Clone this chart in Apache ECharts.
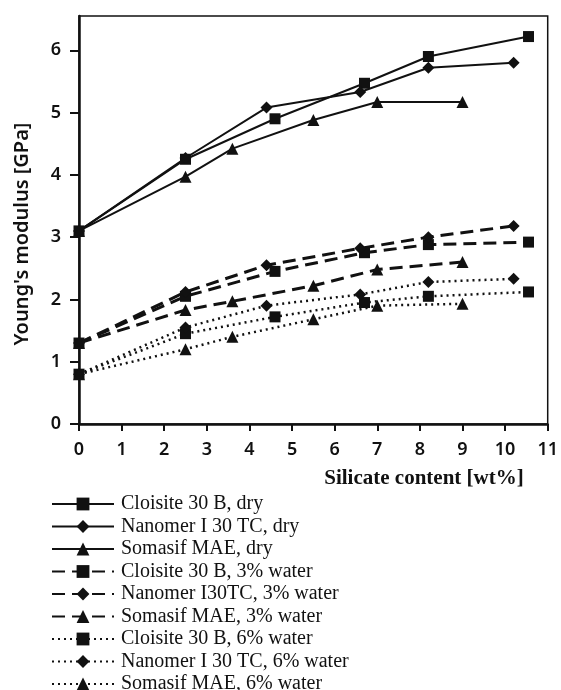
<!DOCTYPE html>
<html>
<head>
<meta charset="utf-8">
<script src="https://cdn.jsdelivr.net/npm/echarts@6/dist/echarts.min.js"></script>
<style>
  html, body { margin: 0; padding: 0; background: #fff; }
  #chart { width: 561px; height: 690px; }
</style>
</head>
<body>
<div id="chart"></div>
<script>
// Silicate loadings (wt%) for each filler
const cloisiteX = [0, 2.5, 4.6, 6.7, 8.2, 10.55];
const nanomerX  = [0, 2.5, 4.4, 6.6, 8.2, 10.2];
const somasifX  = [0, 2.5, 3.6, 5.5, 7.0, 9.0];

// Young's modulus (GPa), dry
const cloisiteDry = [3.1, 4.25, 4.9, 5.47, 5.9, 6.22];
const nanomerDry  = [3.1, 4.27, 5.08, 5.33, 5.72, 5.8];
const somasifDry  = [3.1, 3.97, 4.42, 4.88, 5.17, 5.17];

// Young's modulus (GPa), 3% water
const cloisite3 = [1.3, 2.05, 2.45, 2.75, 2.88, 2.92];
const nanomer3  = [1.3, 2.12, 2.55, 2.82, 3.0, 3.18];
const somasif3  = [1.3, 1.83, 1.97, 2.22, 2.48, 2.6];

// Young's modulus (GPa), 6% water
const cloisite6 = [0.8, 1.45, 1.72, 1.95, 2.05, 2.12];
const nanomer6  = [0.8, 1.55, 1.9, 2.08, 2.28, 2.33];
const somasif6  = [0.8, 1.2, 1.4, 1.68, 1.9, 1.93];

const xTicks = [0, 1, 2, 3, 4, 5, 6, 7, 8, 9, 10, 11];
const yTicks = [0, 1, 2, 3, 4, 5, 6];

const seriesNames = [
  'Cloisite 30 B, dry',
  'Nanomer I 30 TC, dry',
  'Somasif MAE, dry',
  'Cloisite 30 B, 3% water',
  'Nanomer I30TC, 3% water',
  'Somasif MAE, 3% water',
  'Cloisite 30 B, 6% water',
  'Nanomer I 30 TC, 6% water',
  'Somasif MAE, 6% water'
];

const ink = '#111';
const pairs = (xs, ys) => xs.map((x, i) => [x, ys[i]]);

const SQUARE = 'rect';
const DIAMOND = 'path://M0,-1 L1,0 L0,1 L-1,0 Z';
const TRIANGLE = 'triangle';

const styles = {
  solid:  { type: 'solid', width: 2 },
  dashed: { type: [13, 7], width: 3 },
  dotted: { type: [2, 4], width: 2.5 }
};

function makeSeries(name, xs, ys, symbol, lineKey, size) {
  return {
    name: name,
    type: 'line',
    data: pairs(xs, ys),
    symbol: symbol,
    symbolSize: size,
    showAllSymbol: true,
    z: 3,
    lineStyle: Object.assign({ color: ink }, styles[lineKey]),
    itemStyle: { color: ink, borderWidth: 0 },
    emphasis: { disabled: true },
    animation: false
  };
}

const series = [
  makeSeries(seriesNames[0], cloisiteX, cloisiteDry, SQUARE, 'solid', 11),
  makeSeries(seriesNames[1], nanomerX, nanomerDry, DIAMOND, 'solid', 12),
  makeSeries(seriesNames[2], somasifX, somasifDry, TRIANGLE, 'solid', 12),
  makeSeries(seriesNames[3], cloisiteX, cloisite3, SQUARE, 'dashed', 11),
  makeSeries(seriesNames[4], nanomerX, nanomer3, DIAMOND, 'dashed', 12),
  makeSeries(seriesNames[5], somasifX, somasif3, TRIANGLE, 'dashed', 12),
  makeSeries(seriesNames[6], cloisiteX, cloisite6, SQUARE, 'dotted', 11),
  makeSeries(seriesNames[7], nanomerX, nanomer6, DIAMOND, 'dotted', 12),
  makeSeries(seriesNames[8], somasifX, somasif6, TRIANGLE, 'dotted', 12)
];

const chart = echarts.init(document.getElementById('chart'), null, { renderer: 'canvas' });

const tickFont = { fontFamily: 'Noto Sans', fontSize: 18, fontWeight: 600, color: ink };

chart.setOption({
  backgroundColor: '#fff',
  animation: false,
  grid: {
    left: 79, right: 10, top: 16, bottom: 266,
    show: true, borderColor: ink, borderWidth: 1.5, backgroundColor: 'transparent'
  },
  xAxis: {
    type: 'value',
    min: xTicks[0],
    max: xTicks[xTicks.length - 1],
    interval: 1,
    splitLine: { show: false },
    axisLine: { show: true, onZero: false, lineStyle: { color: ink, width: 2.5 } },
    axisTick: { show: true, inside: false, length: 7, lineStyle: { color: ink, width: 2 } },
    axisLabel: Object.assign({ margin: 17 }, tickFont)
  },
  yAxis: {
    type: 'value',
    min: yTicks[0],
    max: 6.55,
    interval: 1,
    splitLine: { show: false },
    axisLine: { show: true, lineStyle: { color: ink, width: 2.5 } },
    axisTick: { show: true, inside: false, length: 9, lineStyle: { color: ink, width: 2 } },
    axisLabel: Object.assign({ margin: 18, showMaxLabel: false,
      formatter: v => (yTicks.indexOf(v) >= 0 ? String(v) : '') }, tickFont)
  },
  legend: {
    orient: 'vertical',
    left: 46,
    top: 489,
    height: 240,
    itemWidth: 62,
    itemHeight: 16,
    itemGap: 2.5,
    selectedMode: false,
    data: seriesNames,
    textStyle: { fontFamily: 'Liberation Serif', fontSize: 20, color: ink, padding: [0, 0, 0, 2] }
  },
  graphic: [{
    type: 'text',
    x: 424,
    y: 479,
    style: {
      text: 'Silicate content [wt%]',
      font: 'bold 21px "Liberation Serif"',
      fill: ink,
      align: 'center',
      verticalAlign: 'middle'
    }
  }, {
    type: 'text',
    x: 22,
    y: 234,
    rotation: Math.PI / 2,
    style: {
      text: "Young's modulus [GPa]",
      font: '600 20px "Noto Sans"',
      fill: ink,
      align: 'center',
      verticalAlign: 'middle'
    }
  }],
  series: series
});
</script>
</body>
</html>
